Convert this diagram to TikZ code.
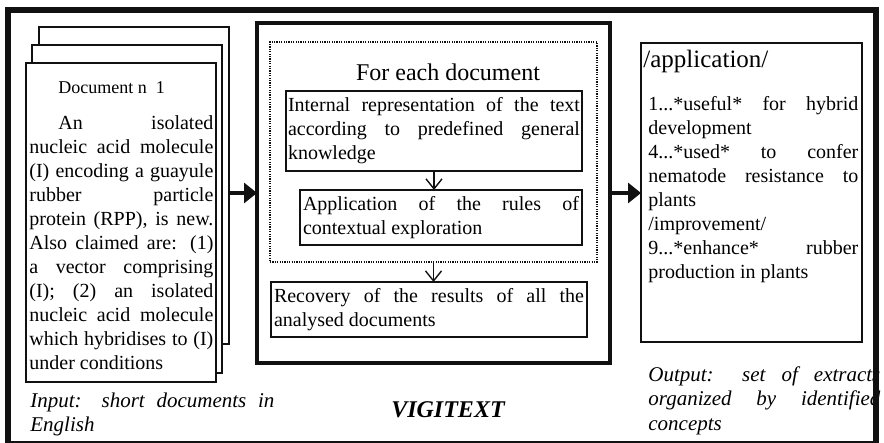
\documentclass[tikz,border=0pt]{standalone}
\usepackage{fontspec}
\setmainfont{Liberation Serif}
\usepackage{xcolor}
\definecolor{cInk}{HTML}{111111}
\usepackage{tikz}
\usetikzlibrary{positioning,arrows.meta}
\tolerance=10000
\hbadness=10000
\hyphenpenalty=10000
\exhyphenpenalty=10000
\tikzset{
  node-sheet/.style={draw=cInk,line width=0.6pt,fill=white,inner sep=0pt,
    outer sep=0pt,anchor=north west},
  node-frame/.style={draw=cInk,line width=2pt,inner sep=0pt,outer sep=0pt,
    anchor=north west},
  node-loop/.style={draw=cInk,line width=0.7pt,dash pattern=on 0.6pt off 0.6pt,
    inner sep=0pt,outer sep=0pt,anchor=north west},
  node-step/.style={draw=cInk,line width=0.9pt,outer sep=0pt,inner ysep=0pt,
    anchor=north west,align=justify,
    font={\fontsize{10}{12}\selectfont\hyphenpenalty10000\relax}},
  node-out/.style={draw=cInk,line width=0.6pt,inner sep=0pt,outer sep=0pt,
    anchor=north west},
  node-text/.style={inner sep=0pt,anchor=base west,align=justify,
    font={\fontsize{10}{12}\selectfont\hyphenpenalty10000\relax}},
  node-caption/.style={inner sep=0pt,anchor=base west,align=justify,
    font={\fontsize{10.5}{12.2}\selectfont\itshape\hyphenpenalty10000\relax}},
  arrow-big/.style={-{Triangle[length=6.5pt,width=10pt]},line width=2pt,draw=cInk},
  arrow-step/.style={-{Straight Barb[length=5pt,width=8pt]},line width=0.7pt,draw=cInk},
}
\begin{document}
\begin{tikzpicture}[x=0.5pt,y=-0.5pt]
  \useasboundingbox (0,0) rectangle (884,443);
  % input documents
  \node[node-sheet,minimum width=95pt,minimum height=158.5pt] (page3) at (39,27) {};
  \node[node-sheet,minimum width=95pt,minimum height=164pt] (page2) at (32,45) {};
  \node[node-sheet,minimum width=95pt,minimum height=159.5pt] (page1) at (26,63) {};
  \node[inner sep=0pt,anchor=base west,font=\fontsize{9}{11}\selectfont] (doctitle)
    at (58,94) {Document n~~1};
  \node[node-text,text width=92pt] (docbody) at (29,129.5) {\hspace*{14.5pt}An isolated\linebreak
    nucleic acid molecule\linebreak
    (I) encoding a guayule\linebreak
    rubber particle\linebreak
    protein (RPP), is new.\linebreak
    Also claimed are: (1)\linebreak
    a vector comprising\linebreak
    (I); (2) an isolated\linebreak
    nucleic acid molecule\linebreak
    which hybridises to (I)\linebreak
    under conditions};
  \node[node-caption,text width=122pt] (input) at (30,407.5) {Input: short documents in English};
  % VIGITEXT
  \node[node-frame,minimum width=176.5pt,minimum height=170pt] (main) at (257,23) {};
  \node[node-loop,minimum width=163.5pt,minimum height=110pt] (loop) at (270,42) {};
  \node[inner sep=0pt,font=\fontsize{12}{14}\selectfont] (foreach) at (448,72) {For each document};
  \node[node-step,text width=146pt,inner xsep=1pt,minimum height=40pt] (repr) at (286,91)
    {Internal representation of the text according to predefined general knowledge};
  \node[node-step,text width=138pt,inner xsep=1.5pt,minimum height=27.5pt] (rules) at (300,190)
    {Application of the rules of contextual exploration};
  \node[node-step,text width=155pt,inner xsep=1.5pt,minimum height=27.5pt] (recov) at (271,282)
    {Recovery of the results of all the analysed documents};
  \node[inner sep=0pt,font=\fontsize{12}{14}\selectfont\bfseries\itshape] (vigitext) at (448,410) {VIGITEXT};
  % output
  \node[node-out,minimum width=110.5pt,minimum height=149.5pt] (result) at (641,43) {};
  \node[inner sep=0pt,anchor=base west,font=\fontsize{12.5}{14}\selectfont] (appl) at (643,68) {/application/};
  \node[node-text,text width=105pt] (extracts) at (648,110.5) {1...*useful* for hybrid development\par
    4...*used* to confer nematode resistance to plants\par
    /improvement/\par
    9...*enhance* rubber production in plants};
  \node[node-caption,text width=116pt] (output) at (648,381.5) {Output: set of extracts organized by identified concepts};
  \draw[arrow-big] (page3.east |- main.west) -- (main.west);
  \draw[arrow-big] (main.east) -- (main.east -| result.west);
  \draw[arrow-step] (repr.south) -- (repr.south |- rules.north);
  \draw[arrow-step] (loop.south) -- (loop.south |- recov.north);
  % outer frame
  \draw[cInk,line width=3pt] (8,10) rectangle (876,443.5);
\end{tikzpicture}
\end{document}
